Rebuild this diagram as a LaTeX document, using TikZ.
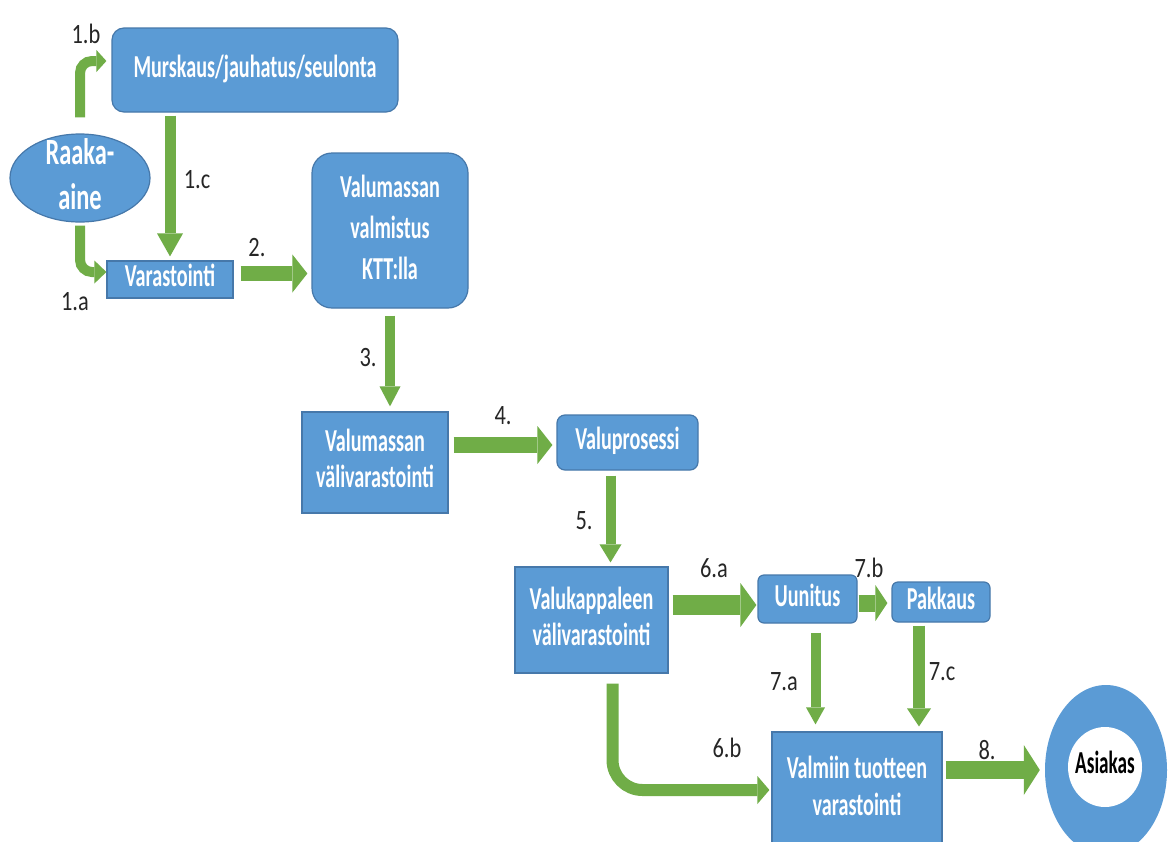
\documentclass[tikz,border=0pt]{standalone}
\usepackage{fontspec}
\setmainfont{Carlito}
\usepackage{graphicx}
\usetikzlibrary{arrows.meta,shapes.geometric}
\definecolor{boxblue}{RGB}{91,155,213}
\definecolor{boxedge}{RGB}{70,120,170}
\definecolor{arrgreen}{RGB}{112,173,71}
\newcommand{\bx}[2][0.63]{\scalebox{#1}[1]{\begin{tabular}{@{}c@{}}#2\end{tabular}}}
\newcommand{\lb}[1]{\scalebox{0.8}[1]{#1}}
\begin{document}
\begin{tikzpicture}[x=1pt,y=-1pt,
  procbox/.style={draw=boxedge, line width=1.2pt, fill=boxblue, text=white, inner sep=0pt,
    font=\fontsize{32}{37}\selectfont\bfseries},
  roundbox/.style={procbox, rounded corners=#1},
  lbl/.style={inner sep=0pt, text=black!85, font=\fontsize{28}{28}\selectfont},
  garr/.style n args={3}{draw=arrgreen, line width=#1,
    -{Triangle[width=#2,length=#3,line width=0pt]}}
]
\useasboundingbox (0,0) rectangle (1170,841);
\fill[white] (0,0) rectangle (1170,841);
\clip (0,0) rectangle (1170,841);

% nodes
\node[roundbox=12pt, minimum width=286pt, minimum height=84pt] (mursk) at (255,70) {\bx{Murskaus/jauhatus/seulonta}};
\node[ellipse, draw=boxedge, line width=1.2pt, fill=boxblue, inner sep=0pt,
  minimum width=140pt, minimum height=88pt,
  label={[inner sep=0pt, text=white, font=\fontsize{37}{45}\selectfont\bfseries]center:\bx[0.66]{Raaka-\\aine}}] (raaka) at (80,178) {};
\node[procbox, minimum width=126pt, minimum height=35pt] (vara) at (170,279.5) {\bx{Varastointi}};
\node[roundbox=20pt, minimum width=156pt, minimum height=155pt, font=\fontsize{32}{41}\selectfont\bfseries] (valm) at (390,230.5) {\bx{Valumassan\\valmistus\\KTT:lla}};
\node[procbox, minimum width=146pt, minimum height=101pt, font=\fontsize{32}{36}\selectfont\bfseries] (mvv) at (375,462.5) {\bx{Valumassan\\välivarastointi}};
\node[roundbox=8pt, minimum width=141pt, minimum height=55pt] (valup) at (627.5,442.5) {\bx{Valuprosessi}};
\node[procbox, minimum width=153pt, minimum height=106pt, font=\fontsize{32}{36}\selectfont\bfseries] (valuk) at (591.5,620) {\bx{Valukappaleen\\välivarastointi}};
\node[roundbox=6pt, minimum width=99pt, minimum height=48pt] (uun) at (807.5,599) {\bx{Uunitus}};
\node[roundbox=6pt, minimum width=98pt, minimum height=40pt] (pak) at (941,602) {\bx{Pakkaus}};
\node[procbox, minimum width=170pt, minimum height=116pt, font=\fontsize{32}{37}\selectfont\bfseries] (fin) at (857,790) {\raisebox{4pt}{\bx{Valmiin tuotteen\\varastointi}}};
\node[ellipse, fill=boxblue, inner sep=0pt, minimum width=122pt, minimum height=170pt] (asi) at (1106,770) {};
\node[ellipse, fill=white, inner sep=0pt, minimum width=74pt, minimum height=80pt,
  label={[inner sep=0pt, font=\fontsize{32}{32}\selectfont\bfseries]center:\bx[0.6]{Asiakas}}] (asiin) at (1105,767) {};

% connectors
\draw[garr={10pt}{22pt}{10pt}, rounded corners=12pt, shorten <=16pt]
  (raaka.north) |- ([xshift=-5pt,yshift=9pt]mursk.west);
\draw[garr={10pt}{23pt}{12pt}, rounded corners=12pt, shorten <=3pt]
  (raaka.south) |- ([yshift=7.5pt]vara.west);
\draw[garr={11pt}{26pt}{23pt}, shorten <=3pt, shorten >=4pt]
  (vara.north |- mursk.south) -- (vara.north);
\draw[garr={15pt}{38pt}{15pt}, shorten <=7pt, shorten >=4pt]
  ([yshift=6pt]vara.east) -- ([yshift=6pt]vara.east -| valm.west);
\draw[garr={10pt}{21pt}{20pt}, shorten <=7pt, shorten >=5pt]
  (valm.south) -- (valm.south |- mvv.north);
\draw[garr={16pt}{38pt}{15pt}, shorten <=5pt, shorten >=4pt]
  ([yshift=-2.5pt]valup.west -| mvv.east) -- ([yshift=-2.5pt]valup.west);
\draw[garr={10pt}{22pt}{18pt}, shorten <=5pt, shorten >=4pt]
  ([xshift=-17pt]valup.south) -- ([xshift=-17pt]valup.south |- valuk.north);
\draw[garr={20pt}{44pt}{16pt}, shorten <=4pt, shorten >=1pt]
  ([yshift=-6pt]uun.west -| valuk.east) -- ([yshift=-6pt]uun.west);
\draw[garr={17pt}{36pt}{12pt}, shorten <=1pt, shorten >=4pt]
  ([yshift=-4pt]uun.east) -- ([yshift=-4pt]uun.east -| pak.west);
\draw[garr={10pt}{19pt}{17pt}, shorten <=9pt, shorten >=7pt]
  ([xshift=8pt]uun.south) -- ([xshift=8pt]uun.south |- fin.north);
\draw[garr={12pt}{24pt}{18pt}, shorten <=3pt, shorten >=5pt]
  ([xshift=-22pt]pak.south) -- ([xshift=-22pt]pak.south |- fin.north);
\draw[garr={18pt}{50pt}{16pt}, shorten <=3pt, shorten >=5pt]
  (fin.east |- asi.west) -- (asi.west);
\draw[garr={12pt}{28pt}{12pt}, rounded corners=30pt, shorten <=10pt, shorten >=2pt]
  ([xshift=21pt]valuk.south) |- (fin.west);

% labels
\node[lbl] (l1b) at (86,34) {\lb{1.b}};
\node[lbl] (l1c) at (197,180) {\lb{1.c}};
\node[lbl] (l1a) at (75,302) {\lb{1.a}};
\node[lbl] (l2) at (257,248) {\lb{2.}};
\node[lbl] (l3) at (368,358) {\lb{3.}};
\node[lbl] (l4) at (503,416) {\lb{4.}};
\node[lbl] (l5) at (584,521) {\lb{5.}};
\node[lbl] (l6a) at (714,568) {\lb{6.a}};
\node[lbl] (l7b) at (869,568) {\lb{7.b}};
\node[lbl] (l7a) at (784,682) {\lb{7.a}};
\node[lbl] (l7c) at (942,672) {\lb{7.c}};
\node[lbl] (l6b) at (727,748) {\lb{6.b}};
\node[lbl] (l8) at (987,750) {\lb{8.}};
\end{tikzpicture}
\end{document}
